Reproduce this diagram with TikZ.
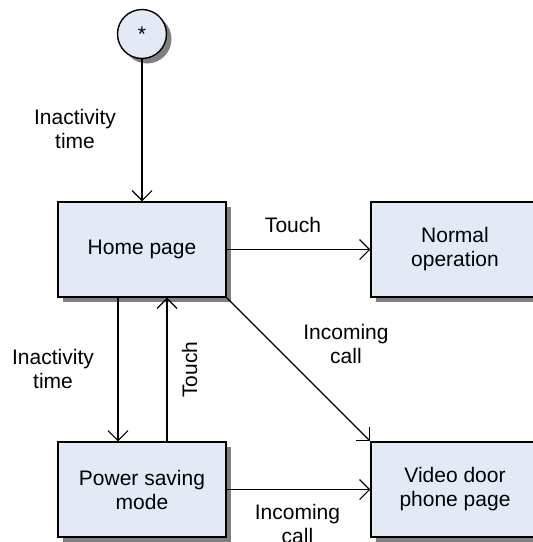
\documentclass[tikz,border=0pt]{standalone}
\usepackage{fontspec}
\setmainfont{Liberation Sans}
\usetikzlibrary{arrows.meta,calc}
\definecolor{boxfill}{HTML}{E3EAF6}
\tikzset{
  statebox/.style={draw=black, line width=1.4pt, fill=boxfill, minimum width=168pt, minimum height=95pt, inner sep=0pt, align=center,
    preaction={fill=black!50, transform canvas={shift={(5pt,-5pt)}}}},
  startcircle/.style={circle, draw=black, line width=1.4pt, fill=boxfill, minimum size=49pt, inner sep=0pt,
    preaction={fill=black!50, transform canvas={shift={(5pt,-5pt)}}}},
  arr/.style={line width=1.1pt, -{Straight Barb[length=10pt,width=20pt,line cap=butt,line join=miter]}},
  lbl/.style={inner sep=0pt, align=center}
}
\begin{document}
\begin{tikzpicture}[x=1pt,y=-1pt,font=\fontsize{21}{24}\selectfont]
\useasboundingbox (0,0) rectangle (533,542);
\clip (0,0) rectangle (533,542);
\node[startcircle] (start) at (142,34) {\raisebox{-3pt}{*}};
\node[statebox] (home) at (142,249.5) {Home page};
\node[statebox] (normal) at (455,249.5) {Normal\\operation};
\node[statebox] (power) at (142,489.5) {Power saving\\mode};
\node[statebox] (video) at (455,489.5) {Video door\\phone page};

\draw[arr] (start.south) -- (home.north);
\draw[arr] (home.east) -- (normal.west);
\draw[arr] ([xshift=-24pt]home.south) -- ([xshift=-24pt]power.north);
\draw[arr] ([xshift=25pt]power.north) -- ([xshift=25pt]home.south);
\draw[arr] (home.south east) -- (video.north west);
\draw[arr] (power.east) -- (video.west);

\node[lbl] (l1) at (75,128.5) {Inactivity\\time};
\node[lbl] (l2) at (293,224.5) {Touch};
\node[lbl] (l3) at (346,343.5) {Incoming\\call};
\node[lbl] (l4) at (53,369) {Inactivity\\time};
\node[lbl, rotate=90] (l5) at (189.5,369.5) {Touch};
\node[lbl] (l6) at (297.5,524) {Incoming\\call};
\end{tikzpicture}
\end{document}
